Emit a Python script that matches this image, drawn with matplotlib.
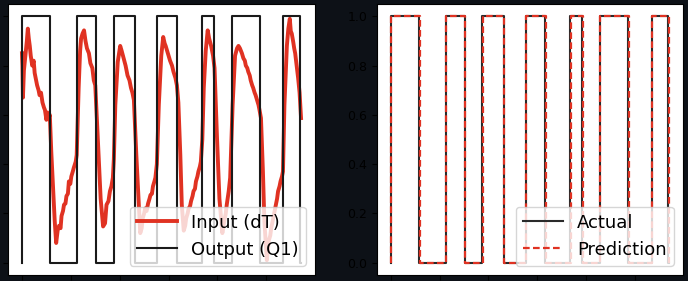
import matplotlib
matplotlib.use("Agg")
import matplotlib.pyplot as plt

# 输出 Q1 的开关时刻 (阶跃)
q1_x = [0, 0, 58, 58, 113, 113, 152, 152, 188, 188, 232, 232, 277, 277, 317, 317,
        368, 368, 392, 392, 429, 429, 487, 487, 535, 535, 569, 569, 571]
q1_y = [0, 1, 1, 0, 0, 1, 1, 0, 0, 1, 1, 0, 0, 1, 1, 0,
        0, 1, 1, 0, 0, 1, 1, 0, 0, 1, 1, 0, 0]

# 预测值 (略有滞后)
pred_x = [0, 0, 59, 59, 114, 114, 153, 153, 189, 189, 233, 233, 278, 278, 319, 319,
          369, 369, 394, 394, 430, 430, 489, 489, 536, 536, 570, 570]
pred_y = [0, 1, 1, 0, 0, 1, 1, 0, 0, 1, 1, 0, 0, 1, 1, 0,
          0, 1, 1, 0, 0, 1, 1, 0, 0, 1, 1, 0]

# 输入 dT (归一化)
dt_x = [0, 1, 2, 4, 7, 10, 12, 14, 16, 18, 21, 24, 26, 29, 31, 34, 36, 39, 42, 45, 47,
        50, 52, 55, 57, 60, 62, 65, 67, 70, 73, 76, 79, 81, 84, 86, 89, 91, 94, 96, 99,
        101, 104, 106, 110, 112, 114, 116, 119, 121, 124, 127, 130, 133, 137, 140, 144,
        147, 150, 155, 161, 166, 170, 173, 177, 180, 183, 186, 188, 191, 196, 201, 204,
        208, 212, 216, 220, 223, 226, 229, 234, 239, 242, 245, 247, 250, 252, 255, 258,
        261, 263, 266, 268, 271, 273, 276, 280, 285, 289, 292, 294, 297, 300, 303, 307,
        310, 314, 317, 320, 324, 327, 331, 334, 336, 339, 341, 344, 346, 349, 351, 354,
        356, 359, 361, 364, 366, 369, 372, 376, 380, 383, 387, 391, 394, 399, 404, 410,
        414, 417, 419, 423, 426, 431, 436, 440, 443, 446, 450, 453, 456, 458, 461, 463,
        466, 468, 471, 473, 476, 478, 481, 484, 486, 489, 493, 496, 501, 505, 508, 510,
        512, 514, 517, 519, 522, 524, 527, 529, 532, 534, 537, 542, 545, 548, 550, 552,
        555, 557, 559, 562, 565, 568, 571]
dt_y = [0.85, 0.80, 0.67, 0.78, 0.84, 0.90, 0.95, 0.91, 0.88, 0.84, 0.80, 0.82, 0.77,
        0.74, 0.72, 0.70, 0.68, 0.69, 0.65, 0.63, 0.62, 0.58, 0.61, 0.59, 0.60, 0.45,
        0.37, 0.25, 0.17, 0.08, 0.13, 0.15, 0.14, 0.19, 0.21, 0.235, 0.24, 0.27, 0.28,
        0.33, 0.32, 0.35, 0.37, 0.385, 0.41, 0.437, 0.58, 0.71, 0.86, 0.91, 0.93, 0.943,
        0.90, 0.87, 0.85, 0.81, 0.79, 0.74, 0.72, 0.51, 0.26, 0.147, 0.16, 0.235, 0.25,
        0.29, 0.31, 0.345, 0.42, 0.64, 0.815, 0.88, 0.86, 0.83, 0.80, 0.76, 0.74, 0.71,
        0.69, 0.66, 0.437, 0.235, 0.12, 0.14, 0.18, 0.20, 0.22, 0.21, 0.24, 0.26, 0.275,
        0.28, 0.31, 0.33, 0.345, 0.40, 0.64, 0.84, 0.916, 0.89, 0.88, 0.86, 0.84, 0.82,
        0.80, 0.775, 0.75, 0.72, 0.65, 0.437, 0.235, 0.13, 0.15, 0.18, 0.20, 0.22, 0.23,
        0.25, 0.27, 0.29, 0.30, 0.33, 0.35, 0.37, 0.39, 0.41, 0.50, 0.71, 0.86, 0.943,
        0.91, 0.88, 0.84, 0.79, 0.51, 0.26, 0.12, 0.17, 0.20, 0.235, 0.29, 0.345, 0.64,
        0.84, 0.87, 0.88, 0.87, 0.85, 0.83, 0.82, 0.80, 0.79, 0.775, 0.76, 0.74, 0.72,
        0.71, 0.69, 0.68, 0.66, 0.64, 0.62, 0.587, 0.37, 0.167, 0.01, 0.09, 0.11, 0.14,
        0.16, 0.18, 0.21, 0.23, 0.26, 0.29, 0.31, 0.33, 0.35, 0.37, 0.64, 0.88, 0.95,
        0.99, 0.94, 0.93, 0.896, 0.87, 0.85, 0.80, 0.75, 0.69, 0.587]

bg = "#0d1117"
fig = plt.figure(figsize=(6.88, 2.81), dpi=100, facecolor=bg)

# 左图: 输入与输出
ax1 = fig.add_axes([8 / 688, 6 / 281, 307 / 688, 271 / 281])
ax1.plot(dt_x, dt_y, color="#e03222", lw=2.8, label="Input (dT)")
ax1.plot(q1_x, q1_y, color="#1a1a1a", lw=1.5, label="Output (Q1)")
ax1.set_xticks([0, 100, 200, 300, 400, 500])
ax1.set_xticklabels([])
ax1.set_yticks([0, 0.2, 0.4, 0.6, 0.8, 1.0])
ax1.set_yticklabels([])
ax1.tick_params(colors="black")
ax1.legend(loc="lower right", fontsize=13, handlelength=2.2, borderaxespad=0.5)

# 右图: 实际与预测
ax2 = fig.add_axes([377 / 688, 6 / 281, 306 / 688, 271 / 281])
ax2.plot(q1_x, q1_y, color="#2a2a2a", lw=1.5, label="Actual")
ax2.plot(pred_x, pred_y, color="#e03222", lw=1.6, ls="--", dashes=(3, 1.5),
         label="Prediction")
ax2.set_xticks([0, 100, 200, 300, 400, 500])
ax2.set_xticklabels([])
ax2.set_yticks([0, 0.2, 0.4, 0.6, 0.8, 1.0])
ax2.tick_params(labelsize=9, colors="black", labelcolor="black")
ax2.legend(loc="lower right", fontsize=13, handlelength=2.2, borderaxespad=0.5)

fig.savefig("out.png", dpi=100, facecolor=bg)
